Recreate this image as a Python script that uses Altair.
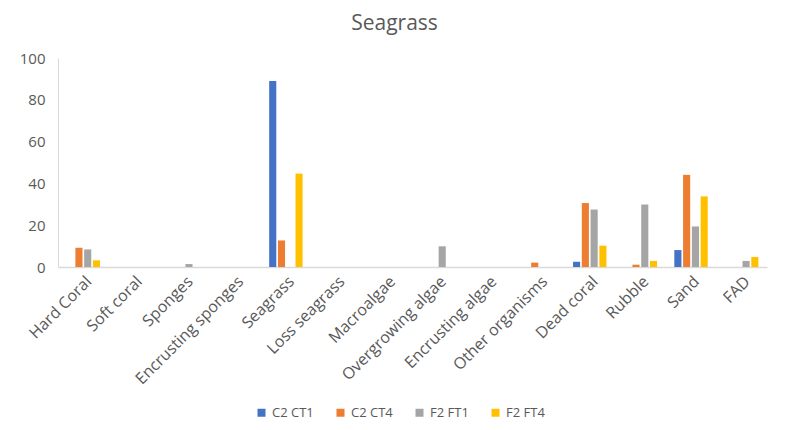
import altair as alt
import pandas as pd

categories = ["Hard Coral", "Soft coral", "Sponges", "Encrusting sponges", "Seagrass",
              "Loss seagrass", "Macroalgae", "Overgrowing algae", "Encrusting algae",
              "Other organisms", "Dead coral", "Rubble", "Sand", "FAD"]
series = ["C2 CT1", "C2 CT4", "F2 FT1", "F2 FT4"]
colors = ["#4472C4", "#ED7D31", "#A5A5A5", "#FFC000"]

c2_ct1 = [0, 0, 0, 0, 89.0, 0, 0, 0, 0, 0, 2.5, 0, 8.1, 0]
c2_ct4 = [9.2, 0, 0, 0, 12.7, 0, 0, 0, 0, 2.1, 30.6, 1.1, 44.1, 0]
f2_ft1 = [8.4, 0, 1.4, 0, 0, 0, 0, 9.9, 0, 0, 27.5, 29.9, 19.4, 2.9]
f2_ft4 = [3.2, 0, 0, 0, 44.7, 0, 0, 0, 0, 0, 10.2, 2.9, 33.8, 4.8]

rows = []
for name, vals in zip(series, [c2_ct1, c2_ct4, f2_ft1, f2_ft4]):
    for cat, v in zip(categories, vals):
        if v > 0:
            rows.append({"category": cat, "series": name, "value": v})
df = pd.DataFrame(rows)

font = "Open Sans"
grey = "#595959"

chart = alt.Chart(df).mark_bar().encode(
    x=alt.X("category:N", sort=categories,
            scale=alt.Scale(domain=categories, paddingInner=0.34, paddingOuter=0.17),
            axis=alt.Axis(title=None, labelAngle=-45, ticks=False, labelPadding=6,
                          labelFontSize=16, labelColor=grey, labelFont=font,
                          domainColor="#D9D9D9", domainWidth=1.5)),
    xOffset=alt.XOffset("series:N", scale=alt.Scale(domain=series, paddingInner=0.19)),
    y=alt.Y("value:Q", scale=alt.Scale(domain=[0, 100]),
            axis=alt.Axis(title=None, values=[0, 20, 40, 60, 80, 100], grid=False, ticks=False,
                          labelPadding=13, labelFontSize=15, labelColor=grey, labelFont=font,
                          domainColor="#D9D9D9", domainWidth=1)),
    color=alt.Color("series:N", scale=alt.Scale(domain=series, range=colors),
                    legend=alt.Legend(title=None, orient="none", direction="horizontal",
                                      legendX=197, legendY=348, symbolType="square",
                                      symbolSize=64, symbolStrokeWidth=0, labelFontSize=13,
                                      labelColor=grey, labelFont=font, columnPadding=20,
                                      labelOffset=4)),
).properties(
    width=709, height=209,
    title=alt.TitleParams("Seagrass", fontSize=21, font=font, color=grey,
                          fontWeight="normal", offset=17, dx=-18),
    autosize=alt.AutoSizeParams(type="none"),
    padding={"left": 50, "top": 50, "right": 12, "bottom": 155},
).configure_view(stroke=None)

chart.save("out.html", embed_options={"renderer": "svg", "actions": False})
